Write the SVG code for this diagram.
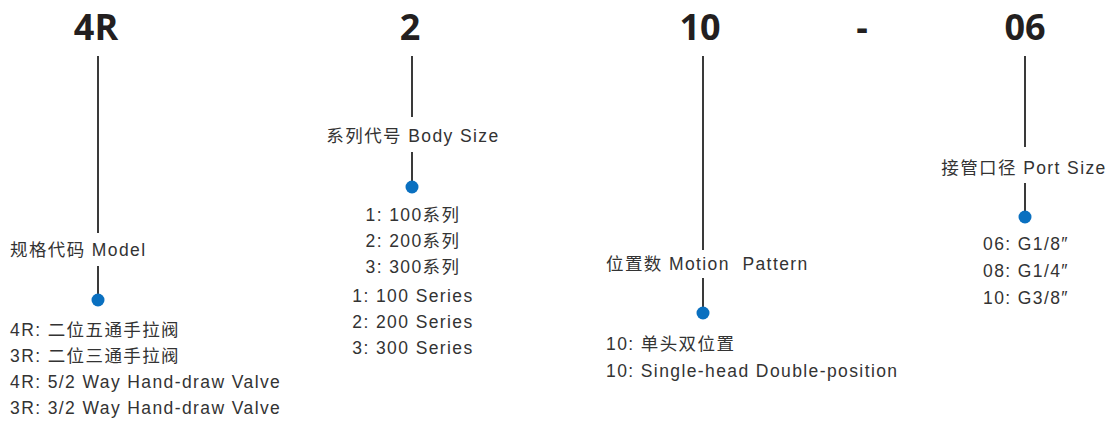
<svg xmlns="http://www.w3.org/2000/svg" width="1107" height="422" viewBox="0 0 1107 422">
<style>
.h{font-family:"Open Sans","Liberation Sans",sans-serif;font-weight:bold;font-size:36px;fill:#231f20;text-anchor:middle}
.t{font-family:"Liberation Sans","Noto Sans CJK SC",sans-serif;font-size:17.5px;letter-spacing:1.4px;fill:#333;white-space:pre}
.c{text-anchor:middle}
.ln{stroke:#3a3a3a;stroke-width:2;fill:none}
.dot{fill:#0a70c0}
</style>
<rect width="1107" height="422" fill="#fff"/>
<g id="connectors">
<line class="ln" x1="98" y1="56" x2="98" y2="233"/>
<line class="ln" x1="98" y1="266" x2="98" y2="300"/>
<line class="ln" x1="412" y1="56" x2="412" y2="117"/>
<line class="ln" x1="412" y1="152" x2="412" y2="187"/>
<line class="ln" x1="703" y1="56" x2="703" y2="250"/>
<line class="ln" x1="703" y1="278" x2="703" y2="313"/>
<line class="ln" x1="1025" y1="56" x2="1025" y2="147"/>
<line class="ln" x1="1025" y1="183" x2="1025" y2="217"/>
</g>
<g id="model">
<text class="h" x="96" y="40">4R</text>
<text class="t" x="10" y="256">规格代码 Model</text>
<circle class="dot" cx="98" cy="300" r="6.5"/>
<text class="t" x="10" y="336">4R: 二位五通手拉阀</text>
<text class="t" x="10" y="362">3R: 二位三通手拉阀</text>
<text class="t" x="10" y="388">4R: 5/2 Way Hand-draw Valve</text>
<text class="t" x="10" y="414">3R: 3/2 Way Hand-draw Valve</text>
</g>
<g id="body-size">
<text class="h" x="410" y="40">2</text>
<text class="t c" x="413" y="142">系列代号 Body Size</text>
<circle class="dot" cx="412" cy="187" r="6.5"/>
<text class="t c" x="413" y="221">1: 100系列</text>
<text class="t c" x="413" y="247">2: 200系列</text>
<text class="t c" x="413" y="273">3: 300系列</text>
<text class="t c" x="413" y="302">1: 100 Series</text>
<text class="t c" x="413" y="328">2: 200 Series</text>
<text class="t c" x="413" y="354">3: 300 Series</text>
</g>
<g id="motion">
<text class="h" x="700" y="40">10</text>
<text class="t" x="606" y="270">位置数 Motion  Pattern</text>
<circle class="dot" cx="703" cy="313" r="6.5"/>
<text class="t" x="606" y="350">10: 单头双位置</text>
<text class="t" x="606" y="377">10: Single-head Double-position</text>
</g>
<g id="dash">
<text class="h" x="862" y="40">-</text>
</g>
<g id="port-size">
<text class="h" x="1025" y="40">06</text>
<text class="t c" x="1024" y="174">接管口径 Port Size</text>
<circle class="dot" cx="1025" cy="217" r="6.5"/>
<text class="t c" x="1026" y="250">06: G1/8″</text>
<text class="t c" x="1026" y="277">08: G1/4″</text>
<text class="t c" x="1026" y="304">10: G3/8″</text>
</g>
</svg>
